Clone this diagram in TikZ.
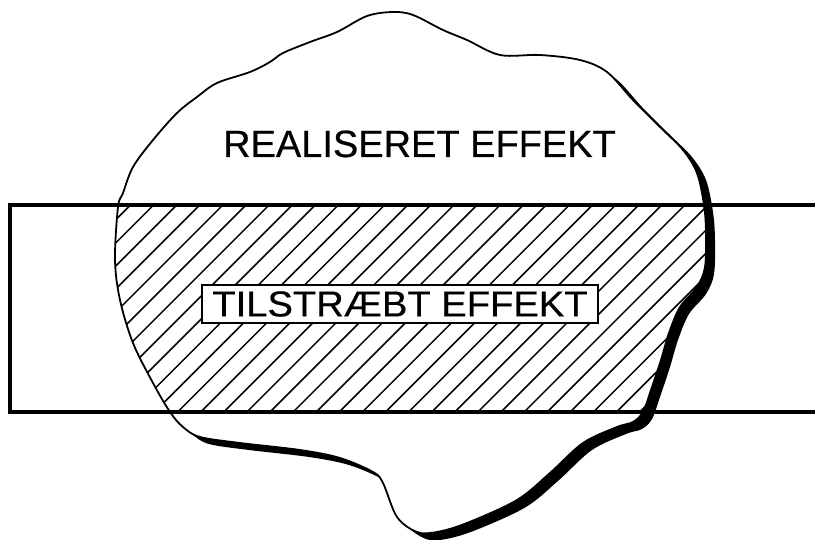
\documentclass[tikz,border=0pt]{standalone}
\usepackage{fontspec}
\setmainfont{Liberation Sans}[FakeBold=0.5]
\newfontfamily\boxfont{Liberation Sans}[FakeStretch=1.06,FakeBold=0.5]

\begin{document}
\begin{tikzpicture}[x=1pt,y=-1pt,
  blobpath/.style={insert path={plot[smooth cycle,tension=0.55] coordinates {
    (393,12) (413,15) (443,30) (467,40) (500,55) (540,55) (580,60) (607,72)
    (633,100) (660,127) (683,150) (697,173) (704,205) (706,233) (705,267)
    (697,287) (680,307) (669,333) (661,360) (651,390) (643,412) (633,422)
    (617,427) (583,443) (550,473) (517,500) (467,523) (437,532) (417,532)
    (397,517) (383,483) (373,472) (340,458) (300,450) (240,443) (200,437)
    (183,427) (170,412) (153,383) (133,343) (120,300) (115,260) (118,207)
    (123,193) (133,167) (153,140) (177,113) (197,97) (217,83) (250,72)
    (270,62) (283,53) (310,42) (337,32) (367,16)}}},
  hatch/.style={line width=1.5pt},
  toptext/.style={font=\fontsize{38}{40}\selectfont},
  boxtext/.style={draw,line width=1.5pt,fill=white,inner sep=0pt,
    minimum width=396pt,minimum height=38pt,
    font=\boxfont\fontsize{36}{38}\selectfont}]
\useasboundingbox (0,0) rectangle (815,540);
\fill[black,shift={(9,7)},blobpath];
\fill[white,blobpath];
\begin{scope}
\clip (10,205) rectangle (815,412);
\clip[blobpath];
\foreach \k in {-16,...,19}
  \draw[hatch] ({270+23.1*\k},412) -- ++(207,-207);
\end{scope}
\draw[line width=1.8pt,blobpath];
\draw[line width=3.4pt] (830,205) -- (10,205) -- (10,412) -- (830,412);

\node[toptext,anchor=base] (realiseret) at (419.5,157) {REALISERET EFFEKT};
\node[boxtext] (tilstraebt) at (400,304) {TILSTRÆBT EFFEKT};
\end{tikzpicture}
\end{document}
